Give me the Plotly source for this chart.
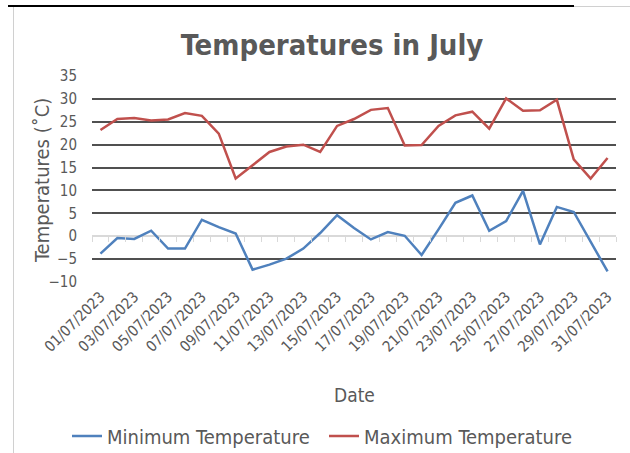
import plotly.graph_objects as go

dates = [f"{d:02d}/07/2023" for d in range(1, 32)]
min_temp = [-3.8, -0.4, -0.6, 1.2, -2.7, -2.7, 3.6, 2.0, 0.6, -7.3,
            -6.2, -4.9, -2.7, 0.7, 4.6, 1.8, -0.7, 0.9, 0.1, -4.1,
            1.5, 7.3, 8.9, 1.2, 3.3, 9.9, -1.8, 6.4, 5.3, -1.2, -7.7]
max_temp = [23.2, 25.6, 25.8, 25.3, 25.5, 26.9, 26.3, 22.4, 12.6, 15.6,
            18.4, 19.6, 20.0, 18.4, 24.1, 25.6, 27.6, 28.0, 19.8, 19.9,
            24.1, 26.4, 27.2, 23.5, 30.1, 27.4, 27.5, 29.8, 16.8, 12.6, 17.1]
y_ticks = list(range(-10, 40, 5))

FONT = "DejaVu Sans Condensed, DejaVu Sans, sans-serif"
GREY = "#595959"

fig = go.Figure()
fig.add_trace(go.Scatter(x=dates, y=min_temp, mode="lines", name="Minimum Temperature",
                         line=dict(color="#4F81BD", width=2.5)))
fig.add_trace(go.Scatter(x=dates, y=max_temp, mode="lines", name="Maximum Temperature",
                         line=dict(color="#C0504D", width=2.5)))

L, R, T, B = 92, 14, 76, 171
W, H = 630, 453
pw = W - L - R
ph = H - T - B

def px_to_paper_x(px):
    return (px - L) / pw

def px_to_paper_y(py):
    return (H - B - py) / ph

fig.update_layout(
    width=W, height=H,
    margin=dict(l=L, r=R, t=T, b=B, autoexpand=False),
    paper_bgcolor="white", plot_bgcolor="white",
    font=dict(family=FONT, color=GREY),
    title=dict(text="<b>Temperatures in July</b>", font=dict(size=29, color=GREY, family=FONT),
               x=332 / W, xanchor="center", xref="container",
               y=1 - 45 / H, yanchor="middle", yref="container"),
    xaxis=dict(type="category", categoryorder="array", categoryarray=dates,
               range=[-0.5, 30.5], dtick=2, tickangle=-45, showgrid=False,
               showline=False, ticks="", tickfont=dict(size=15, color=GREY),
               ticklabelstandoff=2, automargin=False),
    xaxis2=dict(range=[-0.5, 30.5], overlaying="x", anchor="free",
                position=10 / 45, tick0=-0.5, dtick=1, ticks="outside",
                ticklen=5, tickcolor="#d9d9d9", tickwidth=1,
                showticklabels=False, showgrid=False, showline=False, zeroline=False),
    yaxis=dict(range=[-10, 35], tickvals=y_ticks, showgrid=True, gridcolor="#505050",
               gridwidth=1.5, zeroline=True, zerolinecolor="#d9d9d9", zerolinewidth=1.5,
               ticks="", ticklabelstandoff=14, tickfont=dict(size=15, color=GREY),
               automargin=False),
    legend=dict(orientation="h", xref="container", x=324 / W, xanchor="center",
                yref="container", y=1 - 436 / H, yanchor="middle",
                font=dict(size=20, color=GREY), itemwidth=30,
                entrywidth=212, entrywidthmode="pixels"),
    showlegend=True,
)

fig.add_annotation(text="Temperatures (˚C)", textangle=-90, showarrow=False,
                   xref="paper", yref="paper", x=px_to_paper_x(42), y=px_to_paper_y(181),
                   xanchor="center", yanchor="middle", font=dict(size=20, color=GREY))
fig.add_annotation(text="Date", showarrow=False,
                   xref="paper", yref="paper", x=px_to_paper_x(354), y=px_to_paper_y(395),
                   xanchor="center", yanchor="middle", font=dict(size=19, color=GREY))

# invisible helper trace so the boundary tick axis renders
fig.add_trace(go.Scatter(x=[-0.5, 30.5], y=[None, None], xaxis="x2", yaxis="y",
                         mode="lines", showlegend=False, hoverinfo="skip"))

# screenshot frame lines
fig.add_shape(type="line", xref="paper", yref="paper",
              x0=px_to_paper_x(8), x1=px_to_paper_x(574),
              y0=px_to_paper_y(6), y1=px_to_paper_y(6),
              line=dict(color="black", width=2))
fig.add_shape(type="line", xref="paper", yref="paper",
              x0=px_to_paper_x(574), x1=px_to_paper_x(630),
              y0=px_to_paper_y(6.5), y1=px_to_paper_y(6.5),
              line=dict(color="#d0d0d0", width=1))
fig.add_shape(type="line", xref="paper", yref="paper",
              x0=px_to_paper_x(13.5), x1=px_to_paper_x(13.5),
              y0=px_to_paper_y(7), y1=px_to_paper_y(453),
              line=dict(color="#d0d0d0", width=1))

fig.write_html("out.html", config={"displayModeBar": False},
               post_script="document.body.style.margin='0px';")
